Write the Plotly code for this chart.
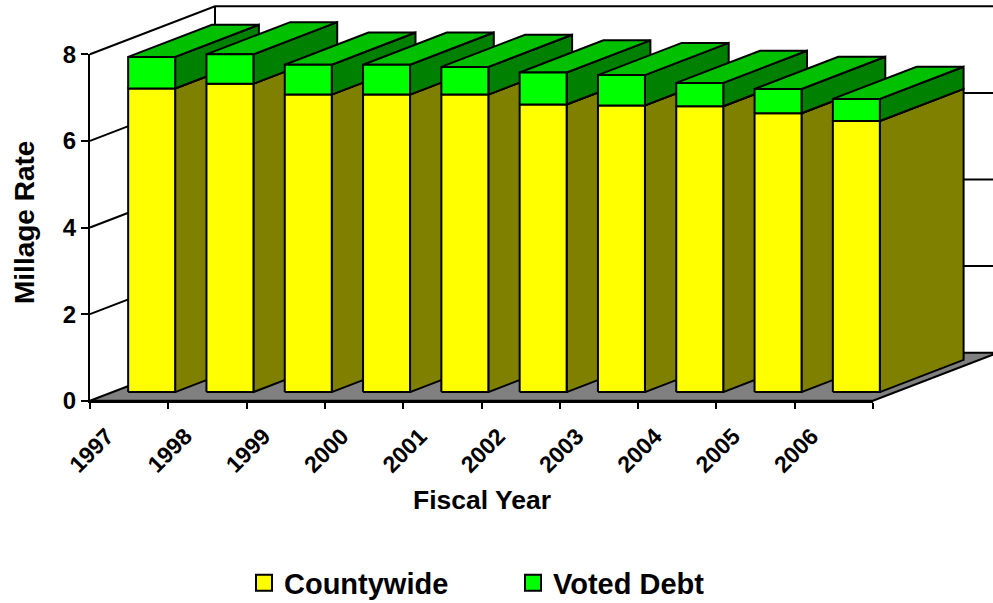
import plotly.graph_objects as go

# ---------------- data ----------------
years = ['1997', '1998', '1999', '2000', '2001', '2002', '2003', '2004', '2005', '2006']
countywide = [7.01, 7.12, 6.87, 6.87, 6.87, 6.64, 6.62, 6.60, 6.44, 6.26]
voted_debt = [0.73, 0.68, 0.69, 0.69, 0.64, 0.74, 0.70, 0.54, 0.56, 0.51]
y_ticks = [0, 2, 4, 6, 8]
series_names = ['Countywide', 'Voted Debt']

# ---------------- style / geometry ----------------
W, H = 993, 603
X0_PX, Y0_PX = 90.0, 400.7          # front-left floor corner in pixels
SLOT_PX, UNIT_PX = 78.3, 43.3        # pixels per category slot / per value unit
DEPTH_DX = 125.0 / SLOT_PX           # full depth offset (data units)
DEPTH_DY = 48.0 / UNIT_PX
F0, F1 = 0.18, 0.85                  # bar depth (front, back) as fraction of depth
BAR_L, BAR_R = 0.2, 0.8              # bar extent inside its slot

FONT = 'Liberation Sans, Arial, sans-serif'
LINE = dict(color='black', width=2)
YEL, YEL_SIDE, YEL_TOP = '#FFFF00', '#808000', '#C0C000'
GRN, GRN_SIDE, GRN_TOP = '#00FF00', '#008000', '#00C000'
FLOOR = '#808080'

n = len(years)
ymax = max(y_ticks)


def P(x, y, d):
    return x + d * DEPTH_DX, y + d * DEPTH_DY


def poly(pts, fill):
    xs = [p[0] for p in pts] + [pts[0][0]]
    ys = [p[1] for p in pts] + [pts[0][1]]
    return go.Scatter(x=xs, y=ys, mode='lines', fill='toself', fillcolor=fill,
                      line=LINE, hoverinfo='skip', showlegend=False)


fig = go.Figure()

# floor
fig.add_trace(poly([P(0, 0, 0), P(n, 0, 0), P(n, 0, 1), P(0, 0, 1)], FLOOR))

# walls and gridlines
lx, ly = [], []
for k in y_ticks[1:]:
    a, b, c = P(0, k, 0), P(0, k, 1), P(n, k, 1)
    lx += [a[0], b[0], c[0], None]
    ly += [a[1], b[1], c[1], None]
a, b = P(0, 0, 1), P(0, ymax, 1)
lx += [a[0], b[0], None]
ly += [a[1], b[1], None]
a, b = P(n, 0, 1), P(n, ymax, 1)
lx += [a[0], b[0], None]
ly += [a[1], b[1], None]
fig.add_trace(go.Scatter(x=lx, y=ly, mode='lines', line=LINE,
                         hoverinfo='skip', showlegend=False))


def box(i, y0, y1, front, side, top):
    xl, xr = i + BAR_L, i + BAR_R
    fig.add_trace(poly([P(xr, y0, F0), P(xr, y0, F1), P(xr, y1, F1), P(xr, y1, F0)], side))
    fig.add_trace(poly([P(xl, y1, F0), P(xr, y1, F0), P(xr, y1, F1), P(xl, y1, F1)], top))
    fig.add_trace(poly([P(xl, y0, F0), P(xr, y0, F0), P(xr, y1, F0), P(xl, y1, F0)], front))


for i in range(n):
    c = countywide[i]
    v = voted_debt[i]
    box(i, 0, c, YEL, YEL_SIDE, YEL_TOP)
    box(i, c, c + v, GRN, GRN_SIDE, GRN_TOP)

# legend entries (on the tick axes subplot)
for name, col in zip(series_names, [YEL, GRN]):
    fig.add_trace(go.Scatter(x=[None], y=[None], mode='markers', name=name,
                             xaxis='x2', yaxis='y2',
                             marker=dict(symbol='square', size=16, color=col,
                                         line=dict(color='black', width=2))))

x_lo = -X0_PX / SLOT_PX
x_hi = (W - X0_PX) / SLOT_PX
y_hi = Y0_PX / UNIT_PX
y_lo = -(H - Y0_PX) / UNIT_PX

front_right_px = X0_PX + n * SLOT_PX
top_px = Y0_PX - ymax * UNIT_PX

fig.update_layout(
    width=W, height=H,
    margin=dict(l=0, r=0, t=0, b=0, pad=0, autoexpand=False),
    paper_bgcolor='white', plot_bgcolor='rgba(0,0,0,0)',
    showlegend=True,
    xaxis=dict(domain=[0, 1], range=[x_lo, x_hi], visible=False, fixedrange=True,
               automargin=False),
    yaxis=dict(domain=[0, 1], range=[y_lo, y_hi], visible=False, fixedrange=True,
               automargin=False),
    xaxis2=dict(domain=[X0_PX / W, front_right_px / W], range=[0, n], anchor='y2',
                automargin=False, fixedrange=True,
                tickvals=list(range(n + 1)), ticktext=years + [''],
                tickangle=-45, ticks='outside', ticklen=6, tickwidth=2, tickcolor='black',
                showline=True, linewidth=2, linecolor='black',
                showgrid=False, zeroline=False, ticklabelshift=17, ticklabelstandoff=5,
                tickfont=dict(family=FONT, size=23, color='black', weight='bold')),
    yaxis2=dict(domain=[1 - Y0_PX / H, 1 - top_px / H], range=[0, ymax], anchor='x2',
                automargin=False, fixedrange=True,
                tickvals=y_ticks, ticks='outside', ticklen=7, tickwidth=2, tickcolor='black',
                showline=True, linewidth=2, linecolor='black',
                showgrid=False, zeroline=False,
                tickfont=dict(family=FONT, size=24, color='black', weight='bold')),
    legend=dict(orientation='h', x=244 / W, xanchor='left', y=1 - 583 / H, yanchor='middle',
                font=dict(family=FONT, size=29, color='black', weight='bold'),
                entrywidth=224, bgcolor='rgba(0,0,0,0)'),
    annotations=[
        dict(text='Millage Rate', x=24 / W, y=1 - 223 / H, xref='paper', yref='paper',
             xanchor='center', yanchor='middle',
             showarrow=False, textangle=-90,
             font=dict(family=FONT, size=28, color='black', weight='bold')),
        dict(text='Fiscal Year', x=482 / W, y=1 - 500 / H, xref='paper', yref='paper',
             xanchor='center', yanchor='middle',
             showarrow=False,
             font=dict(family=FONT, size=26.5, color='black', weight='bold')),
    ],
)

fig.write_html('out.html')
